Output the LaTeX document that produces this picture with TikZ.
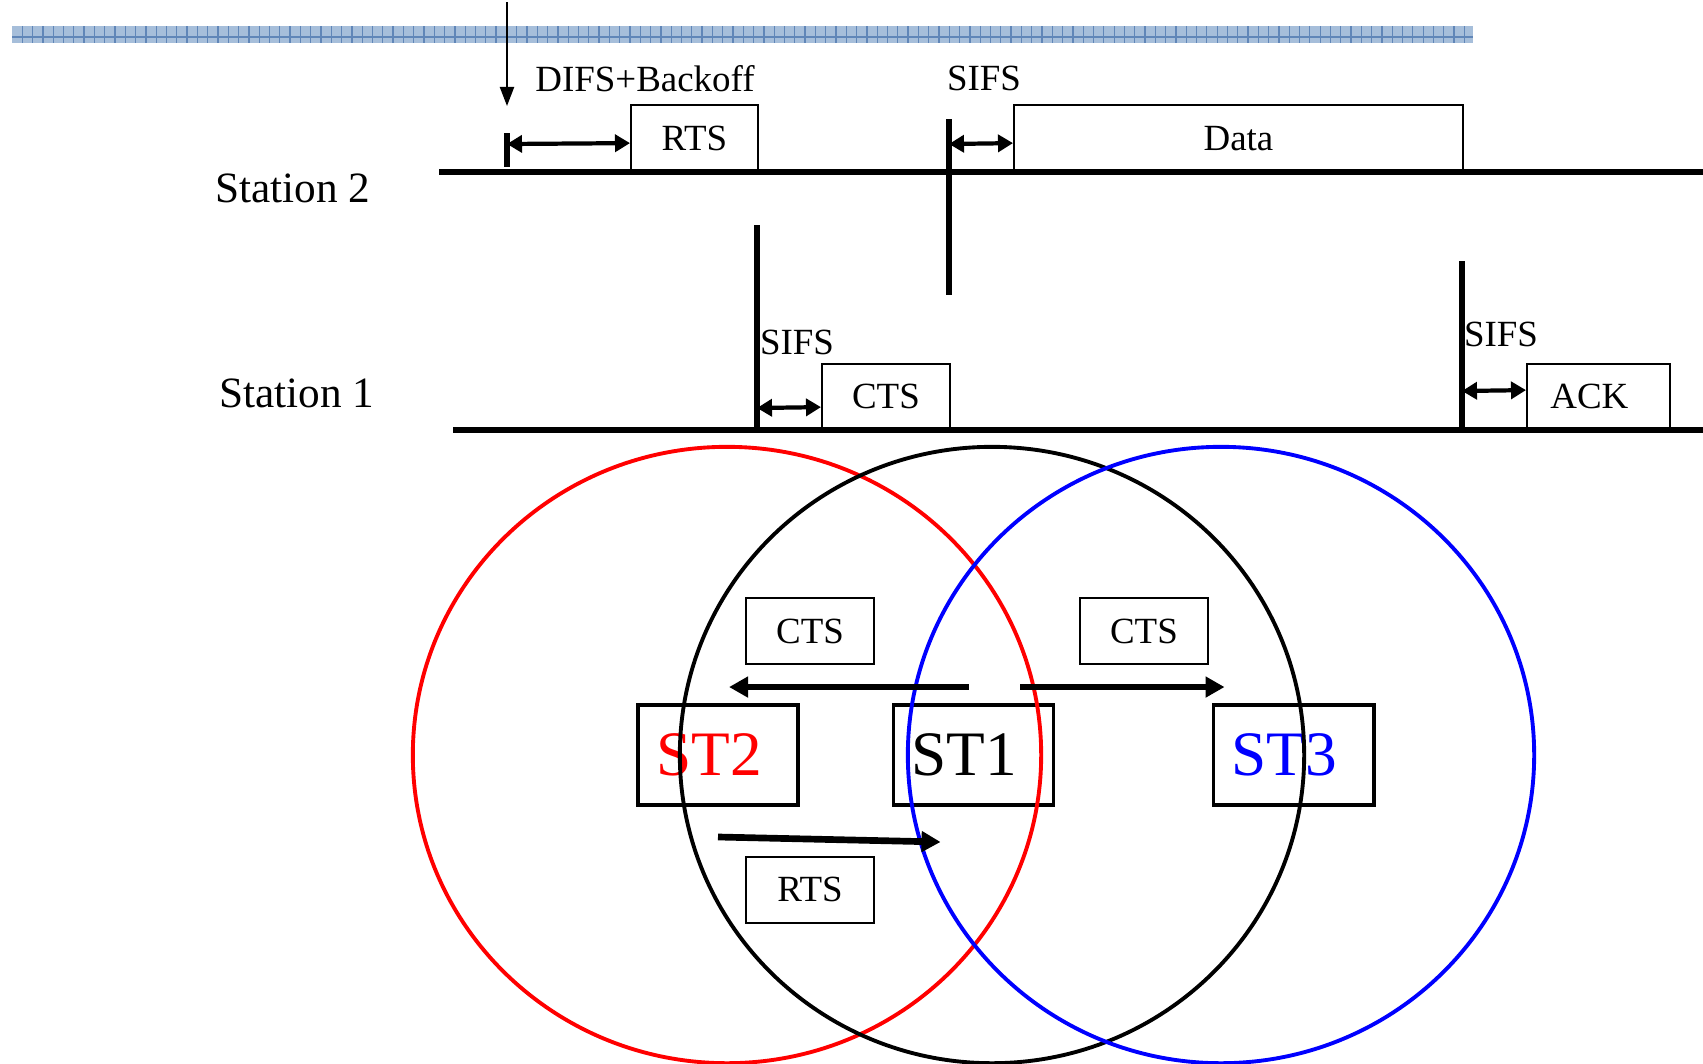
\documentclass[tikz,border=0pt]{standalone}
\usepackage{fontspec}
\setmainfont{Liberation Serif}
\usepackage{tikz}
\usetikzlibrary{shapes.geometric, arrows}
\usetikzlibrary{arrows.meta}
\usetikzlibrary{positioning}
\definecolor{barblue}{RGB}{166,190,218}
\definecolor{bardark}{RGB}{96,134,184}
\newcommand{\smalltxt}{\fontsize{10.5}{12}\selectfont}
\newcommand{\stationtxt}{\fontsize{12.3}{14}\selectfont}
\newcommand{\bigtxt}{\fontsize{18}{20}\selectfont}
\newcommand{\nudge}{\hspace*{-0.18cm}}
\tikzstyle{slot} = [rectangle, draw=black, line width=0.5pt, inner sep=0pt, text centered, font=\smalltxt]
\tikzstyle{msgbox} = [rectangle, draw=black, line width=0.5pt, inner sep=0pt, minimum width=1.28cm, minimum height=0.66cm, text centered, font=\smalltxt]
\tikzstyle{station} = [rectangle, draw=black, line width=1.1pt, inner sep=0pt, minimum width=1.6cm, minimum height=1.0cm, text centered, font=\bigtxt]
\tikzstyle{txt} = [inner sep=0pt, font=\smalltxt]
\tikzstyle{timeline} = [line width=1.7pt]
\tikzstyle{marker} = [line width=1.5pt]
\tikzstyle{gap} = [line width=1.2pt,<->,>={Triangle[length=0.15cm,width=0.17cm]}]
\tikzstyle{msg} = [line width=1.9pt,->,>={Triangle[length=0.19cm,width=0.2cm]}]
\tikzstyle{radio} = [line width=1.1pt]

\begin{document}
\begin{tikzpicture}[x=0.01cm, y=-0.01cm]
\useasboundingbox (0,0) rectangle (1703,1063);

% header bar
\fill[barblue] (12,26) rectangle (1473,43);
\foreach \i in {1,...,141}
  \draw[bardark, line width=0.35pt] (12+10.3*\i,26) -- ++(0,17);
\draw[bardark, line width=0.5pt] (12,37) -- (1473,37);

% station 2
\node (st2lbl) [txt, font=\stationtxt] at (293,188) {Station 2};
\coordinate (go) at (507,2);
\coordinate (gohead) at (507,106);
\draw [line width=0.6pt,->,>={Triangle[length=0.19cm,width=0.14cm]}] (go) -- (gohead);
\node (difs) [txt] at (645,79) {DIFS+Backoff};
\node (rts) [slot, minimum width=1.27cm, minimum height=0.66cm, anchor=south west] at (630,172) {RTS};
\node (data) [slot, minimum width=4.49cm, minimum height=0.66cm, anchor=south west] at (1013,172) {Data};
\node (sifsb) [txt] at (984,78) {SIFS};
\coordinate (tickt) at (507,133);
\coordinate (tickb) at (507,167);
\draw [marker] (tickt) -- (tickb);
\coordinate (mbt) at (949,119);
\coordinate (mbb) at (949,295);
\draw [marker] (mbt) -- (mbb);
\draw [gap] (507,144) -- ([yshift=-0.05cm]rts.west);
\draw [gap] (949,144) -- ([yshift=-0.05cm]data.west);
\coordinate (s2l) at (439,172);
\coordinate (s2r) at (1703,172);
\draw [timeline] (s2l) -- (s2r);

% station 1
\node (st1lbl) [txt, font=\stationtxt] at (297,393) {Station 1};
\node (cts) [slot, minimum width=1.28cm, minimum height=0.65cm, anchor=south west] at (821,430) {CTS};
\node (ack) [slot, minimum width=1.43cm, minimum height=0.65cm, anchor=south west] at (1526,430) {\nudge ACK};
\node (sifsa) [txt] at (797,342) {SIFS};
\node (sifsc) [txt] at (1501,334) {SIFS};
\coordinate (mat) at (757,225);
\coordinate (mab) at (757,432);
\draw [marker] (mat) -- (mab);
\coordinate (mct) at (1462,261);
\coordinate (mcb) at (1462,432);
\draw [marker] (mct) -- (mcb);
\draw [gap] (757,408) -- ([yshift=-0.105cm]cts.west);
\draw [gap] (1462,391) -- ([yshift=0.065cm]ack.west);
\coordinate (s1l) at (453,430);
\coordinate (s1r) at (1703,430);
\draw [timeline] (s1l) -- (s1r);

% stations and ranges
\node (st2) [station, text=red] at (718,755) {\nudge ST2};
\node (st1) [station] at (973.5,755) {\nudge ST1};
\node (st3) [station, text=blue] at (1293.5,755) {\nudge ST3};
\node (ctsl) [msgbox] at (810,631) {CTS};
\node (ctsr) [msgbox, right=2.04cm of ctsl] {CTS};
\node (rtsm) [msgbox, below=1.91cm of ctsl] {RTS};

\draw [radio, red] (727,755) ellipse [x radius=3.14cm, y radius=3.08cm];
\draw [radio, black] (992,755) ellipse [x radius=3.12cm, y radius=3.08cm];
\draw [radio, blue] (1221,755) ellipse [x radius=3.13cm, y radius=3.08cm];

\draw [msg] ([xshift=0.77cm,yshift=0.16cm]st1.north west) -- ([xshift=0.93cm,yshift=0.16cm]st2.north west);
\draw [msg] ([xshift=-0.35cm,yshift=0.16cm]st1.north east) -- ([xshift=0.13cm,yshift=0.16cm]st3.north west);
\draw [msg] ([yshift=-0.30cm]st2.south) -- ([xshift=0.49cm,yshift=-0.35cm]st1.south west);

\end{tikzpicture}
\end{document}
